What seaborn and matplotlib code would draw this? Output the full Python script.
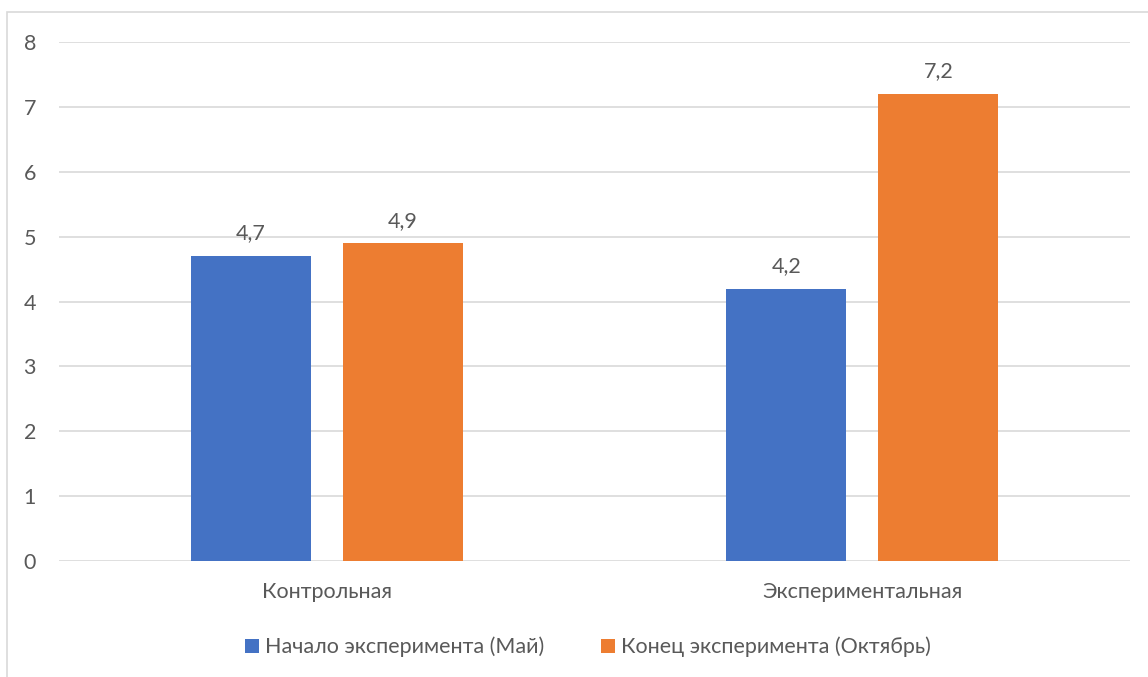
import matplotlib
matplotlib.use("Agg")
import matplotlib.pyplot as plt
from matplotlib.patches import Rectangle, Patch
import seaborn as sns
import pandas as pd

# Data
groups = ["Контрольная", "Экспериментальная"]
series = ["Начало эксперимента (Май)", "Конец эксперимента (Октябрь)"]
start_values = [4.7, 4.2]
end_values = [4.9, 7.2]
y_ticks = [0, 1, 2, 3, 4, 5, 6, 7, 8]

colors = ["#4472C4", "#ED7D31"]
text_color = "#595959"
grid_color = "#D9D9D9"
fs = 15.5

df = pd.DataFrame({
    "group": groups * 2,
    "series": [series[0]] * len(groups) + [series[1]] * len(groups),
    "value": start_values + end_values,
})

sns.set_theme(style="white")
plt.rcParams["font.family"] = ["Lato", "DejaVu Sans"]

fig = plt.figure(figsize=(11.48, 6.77), dpi=100)
ax = fig.add_axes([59 / 1148, 1 - 561 / 677, (1130 - 59) / 1148, (561 - 42) / 677])

sns.barplot(data=df, x="group", y="value", hue="series", order=groups,
            hue_order=series, palette=colors, width=0.568, gap=0.21,
            saturation=1, linewidth=0, ax=ax, legend=False, zorder=3)

ax.set_xlim(-0.5, 1.5)
ax.set_ylim(0, 8)
ax.set_yticks(y_ticks)
ax.set_yticklabels([str(t) for t in y_ticks])
ax.grid(axis="y", color=grid_color, linewidth=1.2, zorder=0)
ax.set_axisbelow(True)
for s in ax.spines.values():
    s.set_visible(False)
ax.tick_params(axis="y", length=0, pad=16.5, labelsize=fs, labelcolor=text_color)
ax.tick_params(axis="x", length=0, pad=15, labelsize=fs, labelcolor=text_color)
ax.set_xlabel("")
ax.set_ylabel("")

# Value labels above bars
for container in ax.containers:
    labels = [f"{v:.1f}".replace(".", ",") for v in container.datavalues]
    ax.bar_label(container, labels=labels, padding=9, fontsize=fs, color=text_color)

# Legend
handles = [Patch(facecolor=c, edgecolor="none") for c in colors]
fig.legend(handles, series, loc="center", bbox_to_anchor=(588 / 1148, 1 - 647 / 677),
           ncol=2, frameon=False, fontsize=fs, labelcolor=text_color,
           handlelength=0.65, handleheight=0.65, handletextpad=0.3, columnspacing=2.6)

# Chart frame
fig.patches.append(Rectangle((7 / 1148, -0.05), 1.2, 1 - 12 / 677 + 0.05,
                             transform=fig.transFigure, fill=False,
                             edgecolor="#D9D9D9", linewidth=1.2))

fig.savefig("out.png", dpi=100, facecolor="white")
